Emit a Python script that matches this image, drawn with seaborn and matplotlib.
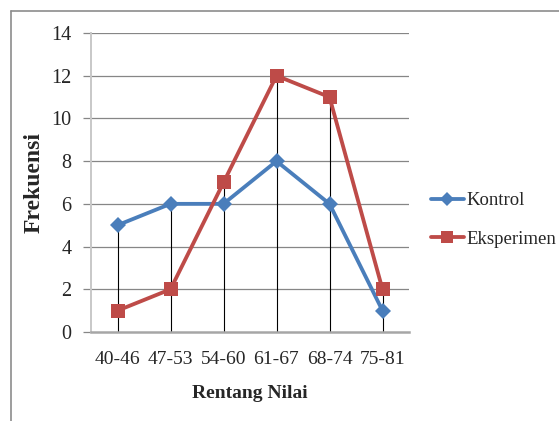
import matplotlib
matplotlib.use("Agg")
import matplotlib.pyplot as plt
from matplotlib.lines import Line2D
import seaborn as sns
import pandas as pd

categories = ["40-46", "47-53", "54-60", "61-67", "68-74", "75-81"]
kontrol = [5, 6, 6, 8, 6, 1]
eksperimen = [1, 2, 7, 12, 11, 2]
y_ticks = [0, 2, 4, 6, 8, 10, 12, 14]

df = pd.DataFrame({
    "Rentang": categories * 2,
    "Frekuensi": kontrol + eksperimen,
    "Kelompok": ["Kontrol"] * len(categories) + ["Eksperimen"] * len(categories),
})

sns.set_style("white")
plt.rcParams["font.family"] = ["Liberation Serif", "DejaVu Serif"]

fig = plt.figure(figsize=(5.59, 4.21), dpi=100)
ax = fig.add_axes([91 / 559, 1 - 332 / 421, 318 / 559, 299 / 421])

palette = {"Kontrol": "#4A7EBB", "Eksperimen": "#BE4B48"}
x_pos = list(range(len(categories)))

# gridlines
for yv in y_ticks[1:]:
    ax.axhline(yv, color="#868686", lw=0.9, zorder=0)

# drop lines from the axis up to the highest point of each category
for i in x_pos:
    top = max(kontrol[i], eksperimen[i])
    ax.plot([i, i], [0, top], color="black", lw=0.8, zorder=1)

sns.lineplot(
    data=df, x="Rentang", y="Frekuensi", hue="Kelompok", style="Kelompok",
    markers={"Kontrol": "D", "Eksperimen": "s"}, dashes=False,
    palette=palette, lw=2.75, markersize=9, markeredgewidth=0,
    sort=False, ax=ax, zorder=3, legend=False,
)
# slightly larger squares than diamonds
for ln in ax.lines[-2:]:
    if ln.get_marker() == "s":
        ln.set_markersize(10)
    else:
        ln.set_markersize(8.5)

ax.set_xlim(-0.5, len(categories) - 0.5)
ax.set_ylim(0, 14)
ax.set_yticks(y_ticks)
ax.set_xticks(x_pos)
ax.set_xticklabels(categories)

for s in ["top", "right"]:
    ax.spines[s].set_visible(False)
ax.spines["left"].set_color("#c8c8c8")
ax.spines["left"].set_linewidth(1.4)
ax.spines["bottom"].set_color("#a6a6a6")
ax.spines["bottom"].set_linewidth(1.8)

ax.tick_params(axis="y", length=6, width=0.9, color="#868686", labelsize=14.5, pad=8, left=True)
ax.tick_params(axis="x", length=0, labelsize=14, pad=14)

ax.set_xlabel("Rentang Nilai", fontsize=14, fontweight="bold", labelpad=12)
ax.set_ylabel("Frekuensi", fontsize=17, fontweight="bold")
ax.yaxis.set_label_coords((45 - 91) / 318, 0.5)

handles = [
    Line2D([], [], color=palette["Kontrol"], lw=2.75, marker="D", markersize=7.5, markeredgewidth=0),
    Line2D([], [], color=palette["Eksperimen"], lw=2.75, marker="s", markersize=9, markeredgewidth=0),
]
fig.legend(handles, ["Kontrol", "Eksperimen"], loc="center left",
           bbox_to_anchor=(431 / 559, 1 - 220 / 421), frameon=False,
           borderpad=0, borderaxespad=0,
           fontsize=13.5, handlelength=1.75, handletextpad=0.15, labelspacing=1.15)

# outer frame
fig.add_artist(Line2D([11 / 559, 11 / 559], [0, 1 - 11 / 421], color="#8c8c8c", lw=1.2))
fig.add_artist(Line2D([11 / 559, 1], [1 - 11 / 421, 1 - 11 / 421], color="#8c8c8c", lw=1.2))

fig.savefig("out.png", dpi=100, facecolor="white")
